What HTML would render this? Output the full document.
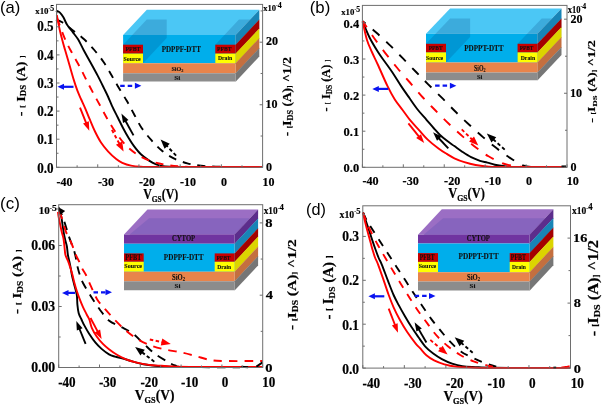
<!DOCTYPE html>
<html><head><meta charset="utf-8"><style>
html,body{margin:0;padding:0;background:#fff;width:602px;height:405px;overflow:hidden}
svg{display:block;will-change:transform;filter:blur(0.5px)}

</style></head><body>
<svg width="602" height="405" viewBox="0 0 602 405">
<rect width="602" height="405" fill="#fff"/>
<path d="M56,10.6 C56.62,10.9 58.47,11.28 59.7,12.4 C60.93,13.52 62.17,15.23 63.4,17.3 C64.63,19.37 65.53,22.32 67.1,24.8 C68.67,27.28 70.95,29.73 72.8,32.2 C74.65,34.67 76.4,36.63 78.2,39.6 C80,42.57 81.57,46.22 83.6,50 C85.63,53.78 88.03,57.98 90.4,62.3 C92.77,66.62 95.53,71.57 97.8,75.9 C100.07,80.23 102.27,84.78 104,88.3 C105.73,91.82 106.85,94.03 108.2,97 C109.55,99.97 110.5,102.68 112.1,106.1 C113.7,109.52 115.93,113.77 117.8,117.5 C119.67,121.23 121.52,125.12 123.3,128.5 C125.08,131.88 126.75,134.9 128.5,137.8 C130.25,140.7 131.73,143.15 133.8,145.9 C135.87,148.65 138.28,151.8 140.9,154.3 C143.52,156.8 147.05,159.25 149.5,160.9 C151.95,162.55 153.67,163.37 155.6,164.2 C157.53,165.03 158.7,165.48 161.1,165.9 C163.5,166.32 165.18,166.52 170,166.7 C174.82,166.88 174.67,166.95 190,167 C205.33,167.05 250,167 262,167" stroke="#000000" stroke-width="1.9" fill="none" stroke-linejoin="round"/>
<path d="M56,19.6 C57.03,20.05 59.58,20.67 62.2,22.3 C64.82,23.93 68.1,26.62 71.7,29.4 C75.3,32.18 80.03,35.57 83.8,39 C87.57,42.43 91.03,46.22 94.3,50 C97.57,53.78 100.65,57.7 103.4,61.7 C106.15,65.7 108.42,69.95 110.8,74 C113.18,78.05 115.07,81.57 117.7,86 C120.33,90.43 123.92,95.98 126.6,100.6 C129.28,105.22 131.32,109.18 133.8,113.7 C136.28,118.22 138.57,123.28 141.5,127.7 C144.43,132.12 148.03,136.4 151.4,140.2 C154.77,144 157.98,147.47 161.7,150.5 C165.42,153.53 169.43,156.27 173.7,158.4 C177.97,160.53 182.73,162.08 187.3,163.3 C191.87,164.52 195.65,165.12 201.1,165.7 C206.55,166.28 209.85,166.58 220,166.8 C230.15,167.02 255,166.97 262,167" stroke="#000000" stroke-width="1.9" fill="none" stroke-dasharray="8,7" stroke-dashoffset="0" stroke-linejoin="round"/>
<path d="M56.8,15 C57.28,17.45 58.7,25.2 59.7,29.7 C60.7,34.2 61.9,38.62 62.8,42 C63.7,45.38 64,46.2 65.1,50 C66.2,53.8 67.97,59.87 69.4,64.8 C70.83,69.73 72.37,75.28 73.7,79.6 C75.03,83.92 76.15,87.38 77.4,90.7 C78.65,94.02 79.9,96.57 81.2,99.5 C82.5,102.43 83.75,104.93 85.2,108.3 C86.65,111.67 88.27,115.83 89.9,119.7 C91.53,123.57 93.15,127.7 95,131.5 C96.85,135.3 98.83,139.2 101,142.5 C103.17,145.8 105.47,148.55 108,151.3 C110.53,154.05 113.82,157.08 116.2,159 C118.58,160.92 119.83,161.7 122.3,162.8 C124.77,163.9 127.9,164.95 131,165.6 C134.1,166.25 136.07,166.47 140.9,166.7 C145.73,166.93 139.82,166.95 160,167 C180.18,167.05 245,167 262,167" stroke="#ff0000" stroke-width="1.9" fill="none" stroke-linejoin="round"/>
<path d="M57,18 C58.28,21.38 62.22,32.5 64.7,38.3 C67.18,44.1 69.47,48.18 71.9,52.8 C74.33,57.42 76.95,61.58 79.3,66 C81.65,70.42 83.7,74.82 86,79.3 C88.3,83.78 90.65,88.33 93.1,92.9 C95.55,97.47 98.22,102.18 100.7,106.7 C103.18,111.22 105.37,115.53 108,120 C110.63,124.47 113.58,129.33 116.5,133.5 C119.42,137.67 122.1,141.53 125.5,145 C128.9,148.47 132.7,151.63 136.9,154.3 C141.1,156.97 146.02,159.28 150.7,161 C155.38,162.72 160.2,163.72 165,164.6 C169.8,165.48 173.67,165.9 179.5,166.3 C185.33,166.7 186.25,166.88 200,167 C213.75,167.12 251.67,167 262,167" stroke="#ff0000" stroke-width="1.9" fill="none" stroke-dasharray="8,7" stroke-dashoffset="0" stroke-linejoin="round"/>
<path d="M80,107.6 L86.32,123.37" stroke="#ff0000" stroke-width="1.9" fill="none"/><path d="M89.3,130.8 L83.07,123.6 L88.83,121.29 Z" fill="#ff0000"/>
<path d="M111.9,129.9 L119.55,144.03" stroke="#ff0000" stroke-width="1.9" fill="none" stroke-dasharray="3.5,2.5"/><path d="M123.6,151.5 L115.91,144.86 L122.24,141.43 Z" fill="#ff0000"/>
<path d="M133.5,135.4 L125.27,120.5" stroke="#000000" stroke-width="1.9" fill="none"/><path d="M121.4,113.5 L128.47,119.88 L123.04,122.88 Z" fill="#000000"/>
<path d="M176.1,155.6 L166.48,145.54" stroke="#000000" stroke-width="1.9" fill="none" stroke-dasharray="3.5,2.5"/><path d="M160.6,139.4 L169.77,143.78 L164.57,148.75 Z" fill="#000000"/>
<path d="M73.5,86.8 L63,86.8" stroke="#0a14f0" stroke-width="2.2" fill="none"/><path d="M57.5,86.8 L64,83.8 L64,89.8 Z" fill="#0a14f0"/>
<path d="M120.2,85.8 L135.9,85.8" stroke="#0a14f0" stroke-width="2.2" fill="none" stroke-dasharray="4.5,3"/><path d="M141.4,85.8 L134.9,88.8 L134.9,82.8 Z" fill="#0a14f0"/>
<polygon points="123.1,35 235.6,35 259.3,9.8 146.8,9.8" fill="#4bc7f5"/>
<polygon points="123.1,35 235.6,35 235.6,63.3 123.1,63.3" fill="#00aeeb"/>
<polygon points="123.1,44.7 146.8,19.5 166.7,19.5 166.7,38.1 143,63.3 123.1,63.3" fill="rgba(0,60,120,0.2)"/>
<polygon points="215.3,44.7 239,19.5 259.3,19.5 259.3,38.1 235.6,63.3 215.3,63.3" fill="rgba(0,60,120,0.2)"/>
<polygon points="123.1,44.7 143,44.7 143,53.6 123.1,53.6" fill="#c80000"/>
<polygon points="123.1,53.6 143,53.6 143,63.3 123.1,63.3" fill="#ffff00"/>
<polygon points="215.3,44.7 235.6,44.7 235.6,53.6 215.3,53.6" fill="#c80000"/>
<polygon points="215.3,53.6 235.6,53.6 235.6,63.3 215.3,63.3" fill="#ffff00"/>
<polygon points="123.1,63.3 235.6,63.3 235.6,73.3 123.1,73.3" fill="#e8844b"/>
<polygon points="123.1,73.3 235.6,73.3 235.6,81.5 123.1,81.5" fill="#8c8c8c"/>
<polygon points="235.6,35 259.3,9.8 259.3,19.8 235.6,45" fill="#1884b6"/>
<polygon points="235.6,44.7 259.3,19.5 259.3,28.7 235.6,53.9" fill="#a40000"/>
<polygon points="235.6,53.6 259.3,28.4 259.3,38.4 235.6,63.6" fill="#dcd400"/>
<polygon points="235.6,63.3 259.3,38.1 259.3,48.4 235.6,73.6" fill="#c46f3f"/>
<polygon points="235.6,73.3 259.3,48.1 259.3,56.6 235.6,81.8" fill="#767676"/>
<rect x="56.5" y="4.4" width="206.1" height="162.9" fill="none" stroke="#6e6e6e" stroke-width="1"/>
<path d="M56.5,167.3 v-3 M77.11,167.3 v-2 M97.72,167.3 v-3 M118.33,167.3 v-2 M138.94,167.3 v-3 M159.55,167.3 v-2 M180.16,167.3 v-3 M200.77,167.3 v-2 M221.38,167.3 v-3 M241.99,167.3 v-2 M262.6,167.3 v-3 M56.5,167.3 h3 M56.5,139.2 h3 M56.5,111.1 h3 M56.5,83 h3 M56.5,54.9 h3 M56.5,26.8 h3 M56.5,153.25 h2 M56.5,125.15 h2 M56.5,97.05 h2 M56.5,68.95 h2 M56.5,40.85 h2 M56.5,12.75 h2 M262.6,167.3 h-3 M262.6,104.75 h-3 M262.6,42.2 h-3 M262.6,136.03 h-2 M262.6,73.48 h-2 M262.6,10.93 h-2" stroke="#6e6e6e" stroke-width="1" fill="none"/>
<path d="M362.6,21.5 C363.73,24.12 366.83,32.12 369.4,37.2 C371.97,42.28 375.4,47.87 378,52 C380.6,56.13 382.62,58.62 385,62 C387.38,65.38 389.63,68.32 392.3,72.3 C394.97,76.28 398.12,81.57 401,85.9 C403.88,90.23 406.77,94.28 409.6,98.3 C412.43,102.32 415.18,106.42 418,110 C420.82,113.58 423.83,116.72 426.5,119.8 C429.17,122.88 431.75,125.97 434,128.5 C436.25,131.03 437.88,132.98 440,135 C442.12,137.02 444.3,138.75 446.7,140.6 C449.1,142.45 451.82,144.25 454.4,146.1 C456.98,147.95 459.42,149.85 462.2,151.7 C464.98,153.55 468.13,155.68 471.1,157.2 C474.07,158.72 477.28,159.9 480,160.8 C482.72,161.7 484.93,161.95 487.4,162.6 C489.87,163.25 491.92,164.08 494.8,164.7 C497.68,165.32 501.82,165.93 504.7,166.3 C507.58,166.67 506.22,166.78 512.1,166.9 C517.98,167.02 531.02,166.98 540,167 C548.98,167.02 561.67,167 566,167" stroke="#000000" stroke-width="1.9" fill="none" stroke-linejoin="round"/>
<path d="M362.6,21.2 C364.82,23.05 371.42,28.35 375.9,32.3 C380.38,36.25 385.03,40.58 389.5,44.9 C393.97,49.22 398.27,53.68 402.7,58.2 C407.13,62.72 411.85,67.65 416.1,72 C420.35,76.35 423.75,79.85 428.2,84.3 C432.65,88.75 438.15,94.03 442.8,98.7 C447.45,103.37 451.65,107.92 456.1,112.3 C460.55,116.68 465.02,120.87 469.5,125 C473.98,129.13 478.52,133.25 483,137.1 C487.48,140.95 491.97,144.68 496.4,148.1 C500.83,151.52 505.18,154.73 509.6,157.6 C514.02,160.47 518.67,163.73 522.9,165.3 C527.13,166.87 527.82,166.72 535,167 C542.18,167.28 560.83,167 566,167" stroke="#000000" stroke-width="1.9" fill="none" stroke-dasharray="9.2,9.2" stroke-dashoffset="5.4" stroke-linejoin="round"/>
<path d="M362.6,21.2 C363.32,24.28 365.35,34.57 366.9,39.7 C368.45,44.83 370.05,47.78 371.9,52 C373.75,56.22 375.42,59.35 378,65 C380.58,70.65 384.6,80.15 387.4,85.9 C390.2,91.65 392.27,95.48 394.8,99.5 C397.33,103.52 400.08,106.6 402.6,110 C405.12,113.4 407.2,116.6 409.9,119.9 C412.6,123.2 415.83,126.52 418.8,129.8 C421.77,133.08 424.42,136.48 427.7,139.6 C430.98,142.72 435.33,146.12 438.5,148.5 C441.67,150.88 444.05,152.27 446.7,153.9 C449.35,155.53 451.45,156.92 454.4,158.3 C457.35,159.68 460.87,161.08 464.4,162.2 C467.93,163.32 471.52,164.27 475.6,165 C479.68,165.73 483.17,166.27 488.9,166.6 C494.63,166.93 497.15,166.93 510,167 C522.85,167.07 556.67,167 566,167" stroke="#ff0000" stroke-width="1.9" fill="none" stroke-linejoin="round"/>
<path d="M362.6,21.2 C363.17,22.02 364,23.17 366,26.1 C368,29.03 371.32,34.22 374.6,38.8 C377.88,43.38 381.92,48.73 385.7,53.6 C389.48,58.47 393.27,63.18 397.3,68 C401.33,72.82 405.63,77.58 409.9,82.5 C414.17,87.42 418.55,92.75 422.9,97.5 C427.25,102.25 431.6,106.53 436,111 C440.4,115.47 444.87,120.07 449.3,124.3 C453.73,128.53 458.1,132.48 462.6,136.4 C467.1,140.32 471.98,144.48 476.3,147.8 C480.62,151.12 484.03,153.68 488.5,156.3 C492.97,158.92 498.45,161.83 503.1,163.5 C507.75,165.17 511.92,165.72 516.4,166.3 C520.88,166.88 521.73,166.88 530,167 C538.27,167.12 560,167 566,167" stroke="#ff0000" stroke-width="1.9" fill="none" stroke-dasharray="9.2,9.2" stroke-dashoffset="1.6" stroke-linejoin="round"/>
<path d="M561.5,166.4 L566,166.4" stroke="#000000" stroke-width="1.9" fill="none" stroke-linejoin="round"/>
<path d="M408.4,123.3 L419.21,136.85" stroke="#ff0000" stroke-width="1.9" fill="none"/><path d="M424.2,143.1 L416.16,138 L421.01,134.13 Z" fill="#ff0000"/>
<path d="M461.7,129.4 L472.22,139.66" stroke="#ff0000" stroke-width="1.9" fill="none" stroke-dasharray="3.5,2.5"/><path d="M478.3,145.6 L468.99,141.54 L474.02,136.39 Z" fill="#ff0000"/>
<path d="M448.3,148.3 L438.59,138.02" stroke="#000000" stroke-width="1.9" fill="none"/><path d="M433.1,132.2 L441.53,136.62 L437.02,140.87 Z" fill="#000000"/>
<path d="M504.7,149.6 L493.14,139.26" stroke="#000000" stroke-width="1.9" fill="none" stroke-dasharray="3.5,2.5"/><path d="M486.8,133.6 L496.28,137.25 L491.48,142.62 Z" fill="#000000"/>
<path d="M388.2,88.9 L377.8,88.9" stroke="#0a14f0" stroke-width="2.2" fill="none"/><path d="M372.3,88.9 L378.8,85.9 L378.8,91.9 Z" fill="#0a14f0"/>
<path d="M435.1,85.7 L450.9,85.7" stroke="#0a14f0" stroke-width="2.2" fill="none" stroke-dasharray="4.5,3"/><path d="M456.4,85.7 L449.9,88.7 L449.9,82.7 Z" fill="#0a14f0"/>
<polygon points="426,33.8 537.4,33.8 561.5,8.4 450.1,8.4" fill="#4bc7f5"/>
<polygon points="426,33.8 537.4,33.8 537.4,62.5 426,62.5" fill="#00aeeb"/>
<polygon points="426,43.8 450.1,18.4 470.1,18.4 470.1,37.1 446,62.5 426,62.5" fill="rgba(0,60,120,0.2)"/>
<polygon points="517.6,43.8 541.7,18.4 561.5,18.4 561.5,37.1 537.4,62.5 517.6,62.5" fill="rgba(0,60,120,0.2)"/>
<polygon points="426,43.8 446,43.8 446,52.4 426,52.4" fill="#c80000"/>
<polygon points="426,52.4 446,52.4 446,62.5 426,62.5" fill="#ffff00"/>
<polygon points="517.6,43.8 537.4,43.8 537.4,52.4 517.6,52.4" fill="#c80000"/>
<polygon points="517.6,52.4 537.4,52.4 537.4,62.5 517.6,62.5" fill="#ffff00"/>
<polygon points="426,62.5 537.4,62.5 537.4,72.4 426,72.4" fill="#e8844b"/>
<polygon points="426,72.4 537.4,72.4 537.4,80.2 426,80.2" fill="#8c8c8c"/>
<polygon points="537.4,33.8 561.5,8.4 561.5,18.7 537.4,44.1" fill="#1884b6"/>
<polygon points="537.4,43.8 561.5,18.4 561.5,27.3 537.4,52.7" fill="#a40000"/>
<polygon points="537.4,52.4 561.5,27 561.5,37.4 537.4,62.8" fill="#dcd400"/>
<polygon points="537.4,62.5 561.5,37.1 561.5,47.3 537.4,72.7" fill="#c46f3f"/>
<polygon points="537.4,72.4 561.5,47 561.5,55.1 537.4,80.5" fill="#767676"/>
<rect x="362.4" y="5.4" width="204.6" height="161.9" fill="none" stroke="#6e6e6e" stroke-width="1"/>
<path d="M362.4,167.3 v-3 M382.86,167.3 v-2 M403.32,167.3 v-3 M423.78,167.3 v-2 M444.24,167.3 v-3 M464.7,167.3 v-2 M485.16,167.3 v-3 M505.62,167.3 v-2 M526.08,167.3 v-3 M546.54,167.3 v-2 M567,167.3 v-3 M362.4,167.3 h3 M362.4,131.2 h3 M362.4,95.1 h3 M362.4,59 h3 M362.4,22.9 h3 M362.4,149.25 h2 M362.4,113.15 h2 M362.4,77.05 h2 M362.4,40.95 h2 M567,167.3 h-3 M567,93.25 h-3 M567,19.2 h-3 M567,130.28 h-2 M567,56.23 h-2" stroke="#6e6e6e" stroke-width="1" fill="none"/>
<path d="M58.3,208.5 C58.73,209.57 60.22,212.35 60.9,214.9 C61.58,217.45 61.9,220.68 62.4,223.8 C62.9,226.92 63.38,230.73 63.9,233.6 C64.42,236.47 65,238.85 65.5,241 C66,243.15 66.5,244.2 66.9,246.5 C67.3,248.8 67.48,252.27 67.9,254.8 C68.32,257.33 68.92,259.4 69.4,261.7 C69.88,264 70.35,266.22 70.8,268.6 C71.25,270.98 71.52,273.28 72.1,276 C72.68,278.72 73.52,281.77 74.3,284.9 C75.08,288.03 76.28,291.52 76.8,294.8 C77.32,298.08 77.08,301.52 77.4,304.6 C77.72,307.68 78.02,310.82 78.7,313.3 C79.38,315.78 80.57,317.48 81.5,319.5 C82.43,321.52 83,322.98 84.3,325.4 C85.6,327.82 87.43,331.12 89.3,334 C91.17,336.88 93.45,340.22 95.5,342.7 C97.55,345.18 99.35,346.95 101.6,348.9 C103.85,350.85 106.75,353.12 109,354.4 C111.25,355.68 112.78,355.92 115.1,356.6 C117.42,357.28 119.9,357.65 122.9,358.5 C125.9,359.35 129.68,360.73 133.1,361.7 C136.52,362.67 139.75,363.62 143.4,364.3 C147.05,364.98 150.57,365.42 155,365.8 C159.43,366.18 164.17,366.4 170,366.6 C175.83,366.8 174.58,366.93 190,367 C205.42,367.07 250.42,367 262.5,367" stroke="#000000" stroke-width="1.9" fill="none" stroke-linejoin="round"/>
<path d="M58.5,207.5 C59,208.58 60.55,211.7 61.5,214 C62.45,216.3 63.32,218.72 64.2,221.3 C65.08,223.88 65.95,226.78 66.8,229.5 C67.65,232.22 68.43,235.02 69.3,237.6 C70.17,240.18 71.12,242.53 72,245 C72.88,247.47 73.88,249.9 74.6,252.4 C75.32,254.9 75.77,257.42 76.3,260 C76.83,262.58 77.18,265.32 77.8,267.9 C78.42,270.48 79.13,272.98 80,275.5 C80.87,278.02 81.22,279.58 83,283 C84.78,286.42 87.97,291.67 90.7,296 C93.43,300.33 96.37,304.92 99.4,309 C102.43,313.08 105.37,317.55 108.9,320.5 C112.43,323.45 116.62,324.53 120.6,326.7 C124.58,328.87 128.83,330.55 132.8,333.5 C136.77,336.45 140.8,341.08 144.4,344.4 C148,347.72 150.58,350.55 154.4,353.4 C158.22,356.25 163.87,359.48 167.3,361.5 C170.73,363.52 172.05,364.58 175,365.5 C177.95,366.42 174.17,366.72 185,367 C195.83,367.28 230.83,367.17 240,367.2" stroke="#000000" stroke-width="1.9" fill="none" stroke-dasharray="8.5,7" stroke-dashoffset="0" stroke-linejoin="round"/>
<path d="M58,212 C58.08,212.67 58.17,214.03 58.5,216 C58.83,217.97 59.43,221.03 60,223.8 C60.57,226.57 61.33,230.23 61.9,232.6 C62.47,234.97 62.98,235.78 63.4,238 C63.82,240.22 64.07,243.1 64.4,245.9 C64.73,248.7 64.82,252.33 65.4,254.8 C65.98,257.27 67.08,258.57 67.9,260.7 C68.72,262.83 69.53,265.22 70.3,267.6 C71.07,269.98 71.83,272.53 72.5,275 C73.17,277.47 73.58,279.73 74.3,282.4 C75.02,285.07 75.87,288.12 76.8,291 C77.73,293.88 78.87,297.02 79.9,299.7 C80.93,302.38 81.87,304.63 83,307.1 C84.13,309.57 85.62,312.35 86.7,314.5 C87.78,316.65 88.65,317.77 89.5,320 C90.35,322.23 90.6,325.15 91.8,327.9 C93,330.65 94.85,333.83 96.7,336.5 C98.55,339.17 100.85,341.78 102.9,343.9 C104.95,346.02 106.65,347.38 109,349.2 C111.35,351.02 114.27,353.15 117,354.8 C119.73,356.45 122.28,357.85 125.4,359.1 C128.52,360.35 131.83,361.33 135.7,362.3 C139.57,363.27 144.32,364.32 148.6,364.9 C152.88,365.48 157.83,365.55 161.4,365.8 C164.97,366.05 165.23,366.22 170,366.4 C174.77,366.58 174.58,366.82 190,366.9 C205.42,366.98 250.42,366.9 262.5,366.9" stroke="#ff0000" stroke-width="1.9" fill="none" stroke-linejoin="round"/>
<path d="M58.5,211.5 C58.92,212.17 60.18,213.45 61,215.5 C61.82,217.55 62.58,221.1 63.4,223.8 C64.22,226.5 65.03,229.42 65.9,231.7 C66.77,233.98 67.7,235.62 68.6,237.5 C69.5,239.38 70.48,241.17 71.3,243 C72.12,244.83 72.75,246.53 73.5,248.5 C74.25,250.47 74.85,252.6 75.8,254.8 C76.75,257 78.13,259.42 79.2,261.7 C80.27,263.98 81.07,266.28 82.2,268.5 C83.33,270.72 84.53,272.02 86,275 C87.47,277.98 89.13,282.33 91,286.4 C92.87,290.47 94.73,295.48 97.2,299.4 C99.67,303.32 102.58,306.18 105.8,309.9 C109.02,313.62 112.97,318.1 116.5,321.7 C120.03,325.3 123.22,328.43 127,331.5 C130.78,334.57 134.87,337.63 139.2,340.1 C143.53,342.57 148.43,344.68 153,346.3 C157.57,347.92 161.9,348.78 166.6,349.8 C171.3,350.82 176.42,351.38 181.2,352.4 C185.98,353.42 190.53,354.65 195.3,355.9 C200.07,357.15 205.02,359.05 209.8,359.9 C214.58,360.75 215.22,360.82 224,361 C232.78,361.18 256.08,361 262.5,361" stroke="#ff0000" stroke-width="1.9" fill="none" stroke-dasharray="8.5,7" stroke-dashoffset="0" stroke-linejoin="round"/>
<path d="M241.4,366.8 L248.1,367.2" stroke="#000000" stroke-width="1.9" fill="none" stroke-linejoin="round"/>
<path d="M256.4,366.6 L262.6,362.4" stroke="#000000" stroke-width="1.9" fill="none" stroke-linejoin="round"/>
<path d="M90.5,318 L97.86,331.93" stroke="#ff0000" stroke-width="1.9" fill="none"/><path d="M101.6,339 L94.65,332.49 L100.13,329.59 Z" fill="#ff0000"/>
<path d="M149.8,339.5 L162.5,342.28" stroke="#ff0000" stroke-width="1.9" fill="none" stroke-dasharray="3.5,2.5"/><path d="M170.8,344.1 L160.75,345.58 L162.29,338.55 Z" fill="#ff0000"/>
<path d="M85.6,343.9 L79.32,328.51" stroke="#000000" stroke-width="1.9" fill="none"/><path d="M76.3,321.1 L82.57,328.26 L76.83,330.6 Z" fill="#000000"/>
<path d="M154.3,361.7 L141.83,352.09" stroke="#000000" stroke-width="1.9" fill="none" stroke-dasharray="3.5,2.5"/><path d="M135.1,346.9 L144.82,349.85 L140.43,355.55 Z" fill="#000000"/>
<path d="M75,292.9 L67.5,292.9" stroke="#0a14f0" stroke-width="2.2" fill="none"/><path d="M62,292.9 L68.5,289.9 L68.5,295.9 Z" fill="#0a14f0"/>
<path d="M93.5,292.3 L106.5,292.3" stroke="#0a14f0" stroke-width="2.2" fill="none" stroke-dasharray="4.5,3"/><path d="M112,292.3 L105.5,295.3 L105.5,289.3 Z" fill="#0a14f0"/>
<path d="M58.5,207.3 L65.15,211.01 L60.4,214.67 Z" fill="#000000"/>
<polygon points="124,234.6 234.6,234.6 258.1,209.4 147.5,209.4" fill="#9b6ec4"/>
<polygon points="129.6,234.6 234.6,234.6 249.76,218.35 149.1,218.35" fill="#8764be"/>
<polygon points="124,234.6 234.6,234.6 234.6,243.7 124,243.7" fill="#7034a0"/>
<polygon points="124,243.7 234.6,243.7 234.6,271.7 124,271.7" fill="#00aeeb"/>
<polygon points="124,253.4 143.7,253.4 143.7,261.8 124,261.8" fill="#c80000"/>
<polygon points="124,261.8 143.7,261.8 143.7,271.7 124,271.7" fill="#ffff00"/>
<polygon points="214.7,253.4 234.6,253.4 234.6,261.8 214.7,261.8" fill="#c80000"/>
<polygon points="214.7,261.8 234.6,261.8 234.6,271.7 214.7,271.7" fill="#ffff00"/>
<polygon points="124,271.7 234.6,271.7 234.6,281.2 124,281.2" fill="#e8844b"/>
<polygon points="124,281.2 234.6,281.2 234.6,290.3 124,290.3" fill="#8c8c8c"/>
<polygon points="234.6,234.6 258.1,209.4 258.1,218.8 234.6,244" fill="#5c2d8c"/>
<polygon points="234.6,243.7 258.1,218.5 258.1,228.5 234.6,253.7" fill="#1884b6"/>
<polygon points="234.6,253.4 258.1,228.2 258.1,236.9 234.6,262.1" fill="#a40000"/>
<polygon points="234.6,261.8 258.1,236.6 258.1,246.8 234.6,272" fill="#dcd400"/>
<polygon points="234.6,271.7 258.1,246.5 258.1,256.3 234.6,281.5" fill="#c46f3f"/>
<polygon points="234.6,281.2 258.1,256 258.1,265.4 234.6,290.6" fill="#767676"/>
<rect x="58.7" y="204.7" width="204" height="162.8" fill="none" stroke="#6e6e6e" stroke-width="1"/>
<path d="M58.7,367.5 v-3 M79.1,367.5 v-2 M99.5,367.5 v-3 M119.9,367.5 v-2 M140.3,367.5 v-3 M160.7,367.5 v-2 M181.1,367.5 v-3 M201.5,367.5 v-2 M221.9,367.5 v-3 M242.3,367.5 v-2 M262.7,367.5 v-3 M58.7,367.5 h3 M58.7,306.5 h3 M58.7,245.5 h3 M58.7,337 h2 M58.7,276 h2 M58.7,215 h2 M262.7,367.5 h-3 M262.7,295.2 h-3 M262.7,222.9 h-3 M262.7,331.35 h-2 M262.7,259.05 h-2" stroke="#6e6e6e" stroke-width="1" fill="none"/>
<path d="M363.2,212.9 C364.03,215.38 366.55,222.85 368.2,227.8 C369.85,232.75 371.85,238.9 373.1,242.6 C374.35,246.3 374.77,247.43 375.7,250 C376.63,252.57 377.67,255.53 378.7,258 C379.73,260.47 380.35,260.98 381.9,264.8 C383.45,268.62 386.05,275.87 388,280.9 C389.95,285.93 391.83,291 393.6,295 C395.37,299 396.73,301.4 398.6,304.9 C400.47,308.4 402.65,312.3 404.8,316 C406.95,319.7 409.25,323.6 411.5,327.1 C413.75,330.6 416.03,333.8 418.3,337 C420.57,340.2 422.67,343.58 425.1,346.3 C427.53,349.02 430.1,351.17 432.9,353.3 C435.7,355.43 438.7,357.38 441.9,359.1 C445.1,360.82 448.68,362.42 452.1,363.6 C455.52,364.78 458.53,365.62 462.4,366.2 C466.27,366.78 469.87,366.83 475.3,367.1 C480.73,367.37 479.22,367.65 495,367.8 C510.78,367.95 557.5,367.97 570,368" stroke="#000000" stroke-width="1.9" fill="none" stroke-linejoin="round"/>
<path d="M363,212.5 C363.5,213.58 364.62,216.45 366,219 C367.38,221.55 369.03,224.18 371.3,227.8 C373.57,231.42 376.78,236.35 379.6,240.7 C382.42,245.05 385.4,249.57 388.2,253.9 C391,258.23 393.65,262.47 396.4,266.7 C399.15,270.93 401.93,275.03 404.7,279.3 C407.47,283.57 410.15,287.98 413,292.3 C415.85,296.62 418.8,300.82 421.8,305.2 C424.8,309.58 427.97,314.48 431,318.6 C434.03,322.72 436.9,326.13 440,329.9 C443.1,333.67 446.13,337.62 449.6,341.2 C453.07,344.78 456.73,348.53 460.8,351.4 C464.87,354.27 469.65,356.33 474,358.4 C478.35,360.47 482.48,362.28 486.9,363.8 C491.32,365.32 494.98,366.8 500.5,367.5 C506.02,368.2 508.42,367.92 520,368 C531.58,368.08 561.67,368 570,368" stroke="#000000" stroke-width="1.9" fill="none" stroke-dasharray="8,7.5" stroke-dashoffset="0" stroke-linejoin="round"/>
<path d="M363,213.5 C363.65,216.08 365.63,224.15 366.9,229 C368.17,233.85 369.65,239.1 370.6,242.6 C371.55,246.1 371.87,247.52 372.6,250 C373.33,252.48 374.07,255.03 375,257.5 C375.93,259.97 376.65,260.7 378.2,264.8 C379.75,268.9 382.55,277.07 384.3,282.1 C386.05,287.13 387.15,290.8 388.7,295 C390.25,299.2 391.75,303.18 393.6,307.3 C395.45,311.42 397.53,315.58 399.8,319.7 C402.07,323.82 404.52,327.98 407.2,332 C409.88,336.02 413.77,341.1 415.9,343.8 C418.03,346.5 418.25,346.28 420,348.2 C421.75,350.12 424.05,353.27 426.4,355.3 C428.75,357.33 431.1,358.9 434.1,360.4 C437.1,361.9 440.75,363.27 444.4,364.3 C448.05,365.33 451.5,366.07 456,366.6 C460.5,367.13 465.73,367.27 471.4,367.5 C477.07,367.73 473.57,367.92 490,368 C506.43,368.08 556.67,368 570,368" stroke="#ff0000" stroke-width="1.9" fill="none" stroke-linejoin="round"/>
<path d="M363,212.5 C363.58,214.08 365.12,218.68 366.5,222 C367.88,225.32 369.32,228.4 371.3,232.4 C373.28,236.4 376.05,241.73 378.4,246 C380.75,250.27 382.8,253.58 385.4,258 C388,262.42 391.23,267.87 394,272.5 C396.77,277.13 399.33,281.47 402,285.8 C404.67,290.13 407.22,294.18 410,298.5 C412.78,302.82 415.78,307.52 418.7,311.7 C421.62,315.88 424.5,319.6 427.5,323.6 C430.5,327.6 433.35,331.97 436.7,335.7 C440.05,339.43 443.68,342.78 447.6,346 C451.52,349.22 455.87,352.43 460.2,355 C464.53,357.57 469,359.63 473.6,361.4 C478.2,363.17 483.4,364.53 487.8,365.6 C492.2,366.67 494.63,367.4 500,367.8 C505.37,368.2 508.33,367.97 520,368 C531.67,368.03 561.67,368 570,368" stroke="#ff0000" stroke-width="1.9" fill="none" stroke-dasharray="8,7.5" stroke-dashoffset="0" stroke-linejoin="round"/>
<path d="M553.4,367.6 L556.2,367.6" stroke="#000000" stroke-width="1.9" fill="none" stroke-linejoin="round"/>
<path d="M561.5,367.4 C562.17,367.33 564.15,367.2 565.5,367 C566.85,366.8 568.92,366.33 569.6,366.2" stroke="#ff0000" stroke-width="1.9" fill="none" stroke-linejoin="round"/>
<path d="M388.7,308.6 L395.12,325.24" stroke="#ff0000" stroke-width="1.9" fill="none"/><path d="M398,332.7 L391.87,325.42 L397.65,323.19 Z" fill="#ff0000"/>
<path d="M430.3,339.9 L441.12,349.1" stroke="#ff0000" stroke-width="1.9" fill="none" stroke-dasharray="3.5,2.5"/><path d="M447.6,354.6 L438.03,351.19 L442.69,345.71 Z" fill="#ff0000"/>
<path d="M426.4,342.5 L418.62,329.12" stroke="#000000" stroke-width="1.9" fill="none"/><path d="M414.6,322.2 L421.8,328.42 L416.44,331.54 Z" fill="#000000"/>
<path d="M472.7,352.7 L461.16,342.83" stroke="#000000" stroke-width="1.9" fill="none" stroke-dasharray="3.5,2.5"/><path d="M454.7,337.3 L464.26,340.74 L459.58,346.21 Z" fill="#000000"/>
<path d="M384.3,296.3 L373.9,296.3" stroke="#0a14f0" stroke-width="2.2" fill="none"/><path d="M368.4,296.3 L374.9,293.3 L374.9,299.3 Z" fill="#0a14f0"/>
<path d="M414.6,295.9 L430,295.9" stroke="#0a14f0" stroke-width="2.2" fill="none" stroke-dasharray="4.5,3"/><path d="M435.5,295.9 L429,298.9 L429,292.9 Z" fill="#0a14f0"/>
<polygon points="418,234.7 529.6,234.7 553.4,209.2 441.8,209.2" fill="#9b6ec4"/>
<polygon points="423.6,234.7 529.6,234.7 544.95,218.25 443.1,218.25" fill="#8764be"/>
<polygon points="418,234.7 529.6,234.7 529.6,243.5 418,243.5" fill="#7034a0"/>
<polygon points="418,243.5 529.6,243.5 529.6,272.2 418,272.2" fill="#00aeeb"/>
<polygon points="418,253.1 438,253.1 438,261.9 418,261.9" fill="#c80000"/>
<polygon points="418,261.9 438,261.9 438,272.2 418,272.2" fill="#ffff00"/>
<polygon points="509.7,253.1 529.6,253.1 529.6,261.9 509.7,261.9" fill="#c80000"/>
<polygon points="509.7,261.9 529.6,261.9 529.6,272.2 509.7,272.2" fill="#ffff00"/>
<polygon points="418,272.2 529.6,272.2 529.6,281.6 418,281.6" fill="#e8844b"/>
<polygon points="418,281.6 529.6,281.6 529.6,290.4 418,290.4" fill="#8c8c8c"/>
<polygon points="529.6,234.7 553.4,209.2 553.4,218.3 529.6,243.8" fill="#5c2d8c"/>
<polygon points="529.6,243.5 553.4,218 553.4,227.9 529.6,253.4" fill="#1884b6"/>
<polygon points="529.6,253.1 553.4,227.6 553.4,236.7 529.6,262.2" fill="#a40000"/>
<polygon points="529.6,261.9 553.4,236.4 553.4,247 529.6,272.5" fill="#dcd400"/>
<polygon points="529.6,272.2 553.4,246.7 553.4,256.4 529.6,281.9" fill="#c46f3f"/>
<polygon points="529.6,281.6 553.4,256.1 553.4,265.2 529.6,290.7" fill="#767676"/>
<rect x="362.8" y="205.8" width="207.7" height="162.3" fill="none" stroke="#6e6e6e" stroke-width="1"/>
<path d="M362.8,368.1 v-3 M383.57,368.1 v-2 M404.34,368.1 v-3 M425.11,368.1 v-2 M445.88,368.1 v-3 M466.65,368.1 v-2 M487.42,368.1 v-3 M508.19,368.1 v-2 M528.96,368.1 v-3 M549.73,368.1 v-2 M570.5,368.1 v-3 M362.8,368.1 h3 M362.8,324.2 h3 M362.8,280.3 h3 M362.8,236.4 h3 M362.8,346.15 h2 M362.8,302.25 h2 M362.8,258.35 h2 M362.8,214.45 h2 M570.5,368.1 h-3 M570.5,303.1 h-3 M570.5,238.1 h-3 M570.5,335.6 h-2 M570.5,270.6 h-2" stroke="#6e6e6e" stroke-width="1" fill="none"/>
<text transform="translate(161.66,52.1) scale(0.07065,0.08308)" font-family="Liberation Serif" font-weight="bold" font-size="100" fill="#111" stroke="#111" stroke-width="1.5">PDPPF-DTT</text>
<text transform="translate(125.48,51.2) scale(0.05873,0.06615)" font-family="Liberation Serif" font-weight="bold" font-size="100" fill="#111" stroke="#111" stroke-width="1.5">PFBT</text>
<text transform="translate(217.09,50.7) scale(0.05595,0.06308)" font-family="Liberation Serif" font-weight="bold" font-size="100" fill="#111" stroke="#111" stroke-width="1.5">PFBT</text>
<text transform="translate(123.41,61.06) scale(0.05895,0.07015)" font-family="Liberation Serif" font-weight="bold" font-size="100" fill="#111" stroke="#111" stroke-width="1.5">Source</text>
<text transform="translate(217.89,60.43) scale(0.05709,0.06714)" font-family="Liberation Serif" font-weight="bold" font-size="100" fill="#111" stroke="#111" stroke-width="1.5">Drain</text>
<text transform="translate(171.39,70.86) scale(0.06117,0.07037)" font-family="Liberation Serif" font-weight="bold" font-size="100" fill="#111" stroke="#111" stroke-width="1.5">SiO<tspan font-size="70" dy="12">2</tspan></text>
<text transform="translate(174.13,79.57) scale(0.07403,0.06338)" font-family="Liberation Serif" font-weight="bold" font-size="100" fill="#111" stroke="#111" stroke-width="1.5">Si</text>
<text transform="translate(37.18,172.53) scale(0.13077,0.13731)" font-family="Liberation Serif" font-weight="bold" font-size="100" fill="#000" stroke="#000" stroke-width="1.5">0.0</text>
<text transform="translate(37.18,144.29) scale(0.13077,0.13529)" font-family="Liberation Serif" font-weight="bold" font-size="100" fill="#000" stroke="#000" stroke-width="1.5">0.1</text>
<text transform="translate(37.18,116.05) scale(0.13077,0.13731)" font-family="Liberation Serif" font-weight="bold" font-size="100" fill="#000" stroke="#000" stroke-width="1.5">0.2</text>
<text transform="translate(37.18,87.81) scale(0.13077,0.13731)" font-family="Liberation Serif" font-weight="bold" font-size="100" fill="#000" stroke="#000" stroke-width="1.5">0.3</text>
<text transform="translate(37.18,59.57) scale(0.13077,0.13731)" font-family="Liberation Serif" font-weight="bold" font-size="100" fill="#000" stroke="#000" stroke-width="1.5">0.4</text>
<text transform="translate(37.18,31.33) scale(0.13077,0.13731)" font-family="Liberation Serif" font-weight="bold" font-size="100" fill="#000" stroke="#000" stroke-width="1.5">0.5</text>
<text transform="translate(265.92,170.91) scale(0.12065,0.11791)" font-family="Liberation Serif" font-weight="bold" font-size="100" fill="#000" stroke="#000" stroke-width="1.5">0</text>
<text transform="translate(265.43,108.17) scale(0.12065,0.11618)" font-family="Liberation Serif" font-weight="bold" font-size="100" fill="#000" stroke="#000" stroke-width="1.5">10</text>
<text transform="translate(265.92,45.41) scale(0.12065,0.11791)" font-family="Liberation Serif" font-weight="bold" font-size="100" fill="#000" stroke="#000" stroke-width="1.5">20</text>
<text transform="translate(56.52,185.64) scale(0.12000,0.12836)" font-family="Liberation Serif" font-weight="bold" font-size="100" fill="#000" stroke="#000" stroke-width="1.5">-40</text>
<text transform="translate(98.12,185.64) scale(0.12000,0.12836)" font-family="Liberation Serif" font-weight="bold" font-size="100" fill="#000" stroke="#000" stroke-width="1.5">-30</text>
<text transform="translate(138.92,185.64) scale(0.12000,0.12836)" font-family="Liberation Serif" font-weight="bold" font-size="100" fill="#000" stroke="#000" stroke-width="1.5">-20</text>
<text transform="translate(179.92,185.65) scale(0.12000,0.12647)" font-family="Liberation Serif" font-weight="bold" font-size="100" fill="#000" stroke="#000" stroke-width="1.5">-10</text>
<text transform="translate(221.1,185.64) scale(0.12000,0.12836)" font-family="Liberation Serif" font-weight="bold" font-size="100" fill="#000" stroke="#000" stroke-width="1.5">0</text>
<text transform="translate(262.56,185.65) scale(0.12000,0.12647)" font-family="Liberation Serif" font-weight="bold" font-size="100" fill="#000" stroke="#000" stroke-width="1.5">10</text>
<text transform="translate(0,13.11) scale(0.16636,0.16596)" font-family="Liberation Sans" font-weight="normal" font-size="100" fill="#000">(a)</text>
<text transform="translate(35.2,14.02) scale(0.08910,0.08958)" font-family="Liberation Serif" font-weight="bold" font-size="100" fill="#000" stroke="#000" stroke-width="1.5">x10<tspan font-size="60" dy="-45">-</tspan><tspan font-size="88" dy="9">5</tspan></text>
<text transform="translate(263.2,11.42) scale(0.08598,0.09118)" font-family="Liberation Serif" font-weight="bold" font-size="100" fill="#000" stroke="#000" stroke-width="1.5">x10<tspan font-size="60" dy="-45">-</tspan><tspan font-size="92" dy="5">4</tspan></text>
<text transform="translate(24.61,116.17) rotate(-90) scale(0.14224,0.12333)" font-family="Liberation Serif" font-weight="bold" font-size="100" fill="#000" stroke="#000" stroke-width="1.5">- <tspan font-size="55" dy="-8">[</tspan><tspan dy="8"> I</tspan><tspan font-size="62" dy="14">DS</tspan><tspan dy="-14"> (A) </tspan><tspan font-size="55" dy="-8">]</tspan></text>
<text transform="translate(290.93,136.14) rotate(-90) scale(0.13454,0.11778)" font-family="Liberation Serif" font-weight="bold" font-size="100" fill="#000" stroke="#000" stroke-width="1.5">- <tspan font-size="55" dy="-2">[</tspan><tspan dy="2">I</tspan><tspan font-size="62" dy="14">DS</tspan><tspan dy="-14"> (A)</tspan><tspan font-size="55" dy="4">]</tspan><tspan dy="-4"> ^1/2</tspan></text>
<text transform="translate(143.18,198.55) scale(0.11944,0.13846)" font-family="Liberation Serif" font-weight="bold" font-size="100" fill="#000" stroke="#000" stroke-width="1.5">V<tspan font-size="62" dy="22">GS</tspan><tspan dy="-22">(V)</tspan></text>
<text transform="translate(464.26,50.8) scale(0.07135,0.08769)" font-family="Liberation Serif" font-weight="bold" font-size="100" fill="#111" stroke="#111" stroke-width="1.5">PDPPT-DTT</text>
<text transform="translate(428.69,49.8) scale(0.05437,0.06000)" font-family="Liberation Serif" font-weight="bold" font-size="100" fill="#111" stroke="#111" stroke-width="1.5">PFBT</text>
<text transform="translate(519.79,49.8) scale(0.05317,0.06462)" font-family="Liberation Serif" font-weight="bold" font-size="100" fill="#111" stroke="#111" stroke-width="1.5">PFBT</text>
<text transform="translate(426.11,60.07) scale(0.05860,0.06269)" font-family="Liberation Serif" font-weight="bold" font-size="100" fill="#111" stroke="#111" stroke-width="1.5">Source</text>
<text transform="translate(520.68,59.83) scale(0.05789,0.06857)" font-family="Liberation Serif" font-weight="bold" font-size="100" fill="#111" stroke="#111" stroke-width="1.5">Drain</text>
<text transform="translate(474.01,70.54) scale(0.05851,0.08025)" font-family="Liberation Serif" font-weight="bold" font-size="100" fill="#111" stroke="#111" stroke-width="1.5">SiO<tspan font-size="70" dy="12">2</tspan></text>
<text transform="translate(476.98,78.69) scale(0.06494,0.05352)" font-family="Liberation Serif" font-weight="bold" font-size="100" fill="#111" stroke="#111" stroke-width="1.5">Si</text>
<text transform="translate(343.6,172.34) scale(0.12479,0.12836)" font-family="Liberation Serif" font-weight="bold" font-size="100" fill="#000" stroke="#000" stroke-width="1.5">0.0</text>
<text transform="translate(343.6,136.2) scale(0.12479,0.12647)" font-family="Liberation Serif" font-weight="bold" font-size="100" fill="#000" stroke="#000" stroke-width="1.5">0.1</text>
<text transform="translate(343.6,100.04) scale(0.12479,0.12836)" font-family="Liberation Serif" font-weight="bold" font-size="100" fill="#000" stroke="#000" stroke-width="1.5">0.2</text>
<text transform="translate(343.6,63.89) scale(0.12479,0.12836)" font-family="Liberation Serif" font-weight="bold" font-size="100" fill="#000" stroke="#000" stroke-width="1.5">0.3</text>
<text transform="translate(343.6,27.74) scale(0.12479,0.12836)" font-family="Liberation Serif" font-weight="bold" font-size="100" fill="#000" stroke="#000" stroke-width="1.5">0.4</text>
<text transform="translate(570.52,170.57) scale(0.12065,0.11642)" font-family="Liberation Serif" font-weight="bold" font-size="100" fill="#000" stroke="#000" stroke-width="1.5">0</text>
<text transform="translate(570.03,96.77) scale(0.12065,0.11471)" font-family="Liberation Serif" font-weight="bold" font-size="100" fill="#000" stroke="#000" stroke-width="1.5">10</text>
<text transform="translate(570.52,22.97) scale(0.12065,0.11642)" font-family="Liberation Serif" font-weight="bold" font-size="100" fill="#000" stroke="#000" stroke-width="1.5">20</text>
<text transform="translate(362.41,184.94) scale(0.12160,0.12985)" font-family="Liberation Serif" font-weight="bold" font-size="100" fill="#000" stroke="#000" stroke-width="1.5">-40</text>
<text transform="translate(402.61,184.94) scale(0.12160,0.12985)" font-family="Liberation Serif" font-weight="bold" font-size="100" fill="#000" stroke="#000" stroke-width="1.5">-30</text>
<text transform="translate(444.11,184.94) scale(0.12160,0.12985)" font-family="Liberation Serif" font-weight="bold" font-size="100" fill="#000" stroke="#000" stroke-width="1.5">-20</text>
<text transform="translate(484.81,184.94) scale(0.12160,0.12794)" font-family="Liberation Serif" font-weight="bold" font-size="100" fill="#000" stroke="#000" stroke-width="1.5">-10</text>
<text transform="translate(525.96,184.94) scale(0.12160,0.12985)" font-family="Liberation Serif" font-weight="bold" font-size="100" fill="#000" stroke="#000" stroke-width="1.5">0</text>
<text transform="translate(566.68,184.94) scale(0.12160,0.12794)" font-family="Liberation Serif" font-weight="bold" font-size="100" fill="#000" stroke="#000" stroke-width="1.5">10</text>
<text transform="translate(309.69,13.14) scale(0.16818,0.16489)" font-family="Liberation Sans" font-weight="normal" font-size="100" fill="#000">(b)</text>
<text transform="translate(341.2,14.73) scale(0.08815,0.08750)" font-family="Liberation Serif" font-weight="bold" font-size="100" fill="#000" stroke="#000" stroke-width="1.5">x10<tspan font-size="60" dy="-45">-</tspan><tspan font-size="88" dy="9">5</tspan></text>
<text transform="translate(567.7,12.51) scale(0.08551,0.09314)" font-family="Liberation Serif" font-weight="bold" font-size="100" fill="#000" stroke="#000" stroke-width="1.5">x10<tspan font-size="60" dy="-45">-</tspan><tspan font-size="92" dy="5">4</tspan></text>
<text transform="translate(330.21,111.49) rotate(-90) scale(0.12172,0.12333)" font-family="Liberation Serif" font-weight="bold" font-size="100" fill="#000" stroke="#000" stroke-width="1.5">- <tspan font-size="55" dy="-8">[</tspan><tspan dy="8"> I</tspan><tspan font-size="62" dy="14">DS</tspan><tspan dy="-14"> (A) </tspan><tspan font-size="55" dy="-8">]</tspan></text>
<text transform="translate(595.48,122.66) rotate(-90) scale(0.14041,0.10556)" font-family="Liberation Serif" font-weight="bold" font-size="100" fill="#000" stroke="#000" stroke-width="1.5">- <tspan font-size="55" dy="-2">[</tspan><tspan dy="2">I</tspan><tspan font-size="62" dy="14">DS</tspan><tspan dy="-14"> (A)</tspan><tspan font-size="55" dy="4">]</tspan><tspan dy="-4"> ^1/2</tspan></text>
<text transform="translate(448.28,197.95) scale(0.12465,0.13846)" font-family="Liberation Serif" font-weight="bold" font-size="100" fill="#000" stroke="#000" stroke-width="1.5">V<tspan font-size="62" dy="22">GS</tspan><tspan dy="-22">(V)</tspan></text>
<text transform="translate(171.97,241.23) scale(0.06676,0.08507)" font-family="Liberation Serif" font-weight="bold" font-size="100" fill="#111" stroke="#111" stroke-width="1.5">CYTOP</text>
<text transform="translate(163.86,260) scale(0.07156,0.08308)" font-family="Liberation Serif" font-weight="bold" font-size="100" fill="#111" stroke="#111" stroke-width="1.5">PDPPF-DTT</text>
<text transform="translate(125.37,260) scale(0.06270,0.07538)" font-family="Liberation Serif" font-weight="bold" font-size="100" fill="#111" stroke="#111" stroke-width="1.5">PFBT</text>
<text transform="translate(216.39,259.5) scale(0.05556,0.06923)" font-family="Liberation Serif" font-weight="bold" font-size="100" fill="#111" stroke="#111" stroke-width="1.5">PFBT</text>
<text transform="translate(124.3,268.27) scale(0.06070,0.06716)" font-family="Liberation Serif" font-weight="bold" font-size="100" fill="#111" stroke="#111" stroke-width="1.5">Source</text>
<text transform="translate(217.29,268.94) scale(0.05547,0.06429)" font-family="Liberation Serif" font-weight="bold" font-size="100" fill="#111" stroke="#111" stroke-width="1.5">Drain</text>
<text transform="translate(171.97,279.58) scale(0.06649,0.07654)" font-family="Liberation Serif" font-weight="bold" font-size="100" fill="#111" stroke="#111" stroke-width="1.5">SiO<tspan font-size="70" dy="12">2</tspan></text>
<text transform="translate(174.44,288.06) scale(0.07143,0.07042)" font-family="Liberation Serif" font-weight="bold" font-size="100" fill="#111" stroke="#111" stroke-width="1.5">Si</text>
<text transform="translate(31.25,372.27) scale(0.13713,0.13881)" font-family="Liberation Serif" font-weight="bold" font-size="100" fill="#000" stroke="#000" stroke-width="1.5">0.00</text>
<text transform="translate(31.25,311.27) scale(0.13713,0.13881)" font-family="Liberation Serif" font-weight="bold" font-size="100" fill="#000" stroke="#000" stroke-width="1.5">0.03</text>
<text transform="translate(31.25,250.27) scale(0.13713,0.13881)" font-family="Liberation Serif" font-weight="bold" font-size="100" fill="#000" stroke="#000" stroke-width="1.5">0.06</text>
<text transform="translate(265.22,371.74) scale(0.14545,0.12836)" font-family="Liberation Serif" font-weight="bold" font-size="100" fill="#000" stroke="#000" stroke-width="1.5">0</text>
<text transform="translate(265.65,299.4) scale(0.14545,0.13231)" font-family="Liberation Serif" font-weight="bold" font-size="100" fill="#000" stroke="#000" stroke-width="1.5">4</text>
<text transform="translate(265.36,226.54) scale(0.14545,0.12836)" font-family="Liberation Serif" font-weight="bold" font-size="100" fill="#000" stroke="#000" stroke-width="1.5">8</text>
<text transform="translate(58.18,387.33) scale(0.13120,0.13731)" font-family="Liberation Serif" font-weight="bold" font-size="100" fill="#000" stroke="#000" stroke-width="1.5">-40</text>
<text transform="translate(98.88,387.33) scale(0.13120,0.13731)" font-family="Liberation Serif" font-weight="bold" font-size="100" fill="#000" stroke="#000" stroke-width="1.5">-30</text>
<text transform="translate(140.48,387.33) scale(0.13120,0.13731)" font-family="Liberation Serif" font-weight="bold" font-size="100" fill="#000" stroke="#000" stroke-width="1.5">-20</text>
<text transform="translate(180.88,387.33) scale(0.13120,0.13529)" font-family="Liberation Serif" font-weight="bold" font-size="100" fill="#000" stroke="#000" stroke-width="1.5">-10</text>
<text transform="translate(221.82,387.33) scale(0.13120,0.13731)" font-family="Liberation Serif" font-weight="bold" font-size="100" fill="#000" stroke="#000" stroke-width="1.5">0</text>
<text transform="translate(262.28,387.33) scale(0.13120,0.13529)" font-family="Liberation Serif" font-weight="bold" font-size="100" fill="#000" stroke="#000" stroke-width="1.5">10</text>
<text transform="translate(0.08,209.32) scale(0.16971,0.16330)" font-family="Liberation Sans" font-weight="normal" font-size="100" fill="#000">(c)</text>
<text transform="translate(38.71,214.3) scale(0.11111,0.09896)" font-family="Liberation Serif" font-weight="bold" font-size="100" fill="#000" stroke="#000" stroke-width="1.5">10<tspan font-size="60" dy="-45">-</tspan><tspan font-size="88" dy="9">5</tspan></text>
<text transform="translate(263.7,214.1) scale(0.09346,0.09804)" font-family="Liberation Serif" font-weight="bold" font-size="100" fill="#000" stroke="#000" stroke-width="1.5">x10<tspan font-size="60" dy="-45">-</tspan><tspan font-size="92" dy="5">4</tspan></text>
<text transform="translate(21.31,313.9) rotate(-90) scale(0.15107,0.12333)" font-family="Liberation Serif" font-weight="bold" font-size="100" fill="#000" stroke="#000" stroke-width="1.5">- <tspan font-size="55" dy="-8">[</tspan><tspan dy="8"> I</tspan><tspan font-size="62" dy="14">DS</tspan><tspan dy="-14"> (A) </tspan><tspan font-size="55" dy="-8">]</tspan></text>
<text transform="translate(295.88,330.12) rotate(-90) scale(0.15458,0.12000)" font-family="Liberation Serif" font-weight="bold" font-size="100" fill="#000" stroke="#000" stroke-width="1.5">- <tspan font-size="55" dy="-2">[</tspan><tspan dy="2">I</tspan><tspan font-size="62" dy="14">DS</tspan><tspan dy="-14"> (A)</tspan><tspan font-size="55" dy="4">]</tspan><tspan dy="-4"> ^1/2</tspan></text>
<text transform="translate(134.87,400.23) scale(0.13472,0.14396)" font-family="Liberation Serif" font-weight="bold" font-size="100" fill="#000" stroke="#000" stroke-width="1.5">V<tspan font-size="62" dy="22">GS</tspan><tspan dy="-22">(V)</tspan></text>
<text transform="translate(466.66,241.23) scale(0.06706,0.08507)" font-family="Liberation Serif" font-weight="bold" font-size="100" fill="#111" stroke="#111" stroke-width="1.5">CYTOP</text>
<text transform="translate(458.45,258.8) scale(0.07281,0.07692)" font-family="Liberation Serif" font-weight="bold" font-size="100" fill="#111" stroke="#111" stroke-width="1.5">PDPPT-DTT</text>
<text transform="translate(419.78,259.8) scale(0.05794,0.07385)" font-family="Liberation Serif" font-weight="bold" font-size="100" fill="#111" stroke="#111" stroke-width="1.5">PFBT</text>
<text transform="translate(510.78,260.1) scale(0.05952,0.07692)" font-family="Liberation Serif" font-weight="bold" font-size="100" fill="#111" stroke="#111" stroke-width="1.5">PFBT</text>
<text transform="translate(418.7,267.68) scale(0.06035,0.05821)" font-family="Liberation Serif" font-weight="bold" font-size="100" fill="#111" stroke="#111" stroke-width="1.5">Source</text>
<text transform="translate(512.09,269.23) scale(0.05547,0.07143)" font-family="Liberation Serif" font-weight="bold" font-size="100" fill="#111" stroke="#111" stroke-width="1.5">Drain</text>
<text transform="translate(466.97,279.58) scale(0.06649,0.07654)" font-family="Liberation Serif" font-weight="bold" font-size="100" fill="#111" stroke="#111" stroke-width="1.5">SiO<tspan font-size="70" dy="12">2</tspan></text>
<text transform="translate(469.44,288.06) scale(0.07143,0.07042)" font-family="Liberation Serif" font-weight="bold" font-size="100" fill="#111" stroke="#111" stroke-width="1.5">Si</text>
<text transform="translate(342.16,373.71) scale(0.13504,0.14328)" font-family="Liberation Serif" font-weight="bold" font-size="100" fill="#000" stroke="#000" stroke-width="1.5">0.0</text>
<text transform="translate(342.16,329.52) scale(0.13504,0.14118)" font-family="Liberation Serif" font-weight="bold" font-size="100" fill="#000" stroke="#000" stroke-width="1.5">0.1</text>
<text transform="translate(342.16,285.31) scale(0.13504,0.14328)" font-family="Liberation Serif" font-weight="bold" font-size="100" fill="#000" stroke="#000" stroke-width="1.5">0.2</text>
<text transform="translate(342.16,241.11) scale(0.13504,0.14328)" font-family="Liberation Serif" font-weight="bold" font-size="100" fill="#000" stroke="#000" stroke-width="1.5">0.3</text>
<text transform="translate(573.63,372.54) scale(0.14270,0.13134)" font-family="Liberation Serif" font-weight="bold" font-size="100" fill="#000" stroke="#000" stroke-width="1.5">0</text>
<text transform="translate(573.77,307.44) scale(0.14270,0.13134)" font-family="Liberation Serif" font-weight="bold" font-size="100" fill="#000" stroke="#000" stroke-width="1.5">8</text>
<text transform="translate(573.06,242.34) scale(0.14270,0.12941)" font-family="Liberation Serif" font-weight="bold" font-size="100" fill="#000" stroke="#000" stroke-width="1.5">16</text>
<text transform="translate(362.62,387.53) scale(0.13200,0.13731)" font-family="Liberation Serif" font-weight="bold" font-size="100" fill="#000" stroke="#000" stroke-width="1.5">-40</text>
<text transform="translate(404.02,387.53) scale(0.13200,0.13731)" font-family="Liberation Serif" font-weight="bold" font-size="100" fill="#000" stroke="#000" stroke-width="1.5">-30</text>
<text transform="translate(446.12,387.53) scale(0.13200,0.13731)" font-family="Liberation Serif" font-weight="bold" font-size="100" fill="#000" stroke="#000" stroke-width="1.5">-20</text>
<text transform="translate(487.62,387.53) scale(0.13200,0.13529)" font-family="Liberation Serif" font-weight="bold" font-size="100" fill="#000" stroke="#000" stroke-width="1.5">-10</text>
<text transform="translate(529,387.53) scale(0.13200,0.13731)" font-family="Liberation Serif" font-weight="bold" font-size="100" fill="#000" stroke="#000" stroke-width="1.5">0</text>
<text transform="translate(570.74,387.53) scale(0.13200,0.13529)" font-family="Liberation Serif" font-weight="bold" font-size="100" fill="#000" stroke="#000" stroke-width="1.5">10</text>
<text transform="translate(306.02,215.35) scale(0.16273,0.16915)" font-family="Liberation Sans" font-weight="normal" font-size="100" fill="#000">(d)</text>
<text transform="translate(339.5,217.8) scale(0.09810,0.10000)" font-family="Liberation Serif" font-weight="bold" font-size="100" fill="#000" stroke="#000" stroke-width="1.5">x10<tspan font-size="60" dy="-45">-</tspan><tspan font-size="88" dy="9">5</tspan></text>
<text transform="translate(572,214.4) scale(0.09533,0.10098)" font-family="Liberation Serif" font-weight="bold" font-size="100" fill="#000" stroke="#000" stroke-width="1.5">x10<tspan font-size="60" dy="-45">-</tspan><tspan font-size="92" dy="5">4</tspan></text>
<text transform="translate(333.25,319.5) rotate(-90) scale(0.15012,0.13556)" font-family="Liberation Serif" font-weight="bold" font-size="100" fill="#000" stroke="#000" stroke-width="1.5">- <tspan font-size="55" dy="-8">[</tspan><tspan dy="8"> I</tspan><tspan font-size="62" dy="14">DS</tspan><tspan dy="-14"> (A) </tspan><tspan font-size="55" dy="-8">]</tspan></text>
<text transform="translate(598.15,336.25) rotate(-90) scale(0.16356,0.13556)" font-family="Liberation Serif" font-weight="bold" font-size="100" fill="#000" stroke="#000" stroke-width="1.5">- <tspan font-size="55" dy="-2">[</tspan><tspan dy="2">I</tspan><tspan font-size="62" dy="14">DS</tspan><tspan dy="-14"> (A)</tspan><tspan font-size="55" dy="4">]</tspan><tspan dy="-4"> ^1/2</tspan></text>
<text transform="translate(443.47,400.78) scale(0.13333,0.14615)" font-family="Liberation Serif" font-weight="bold" font-size="100" fill="#000" stroke="#000" stroke-width="1.5">V<tspan font-size="62" dy="22">GS</tspan><tspan dy="-22">(V)</tspan></text>
</svg>
</body></html>
